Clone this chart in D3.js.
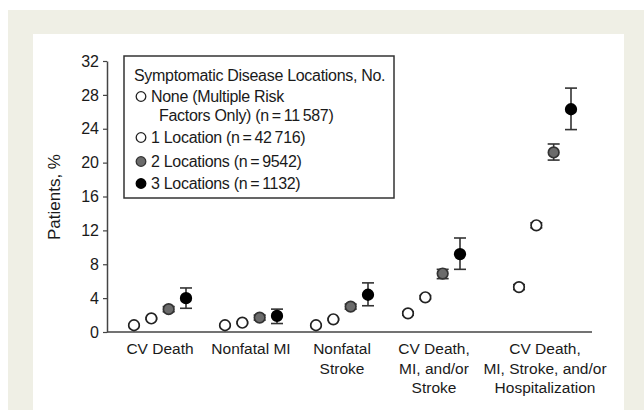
<!DOCTYPE html>
<html>
<head>
<meta charset="utf-8">
<script src="https://cdn.jsdelivr.net/npm/d3@7"></script>
<style>
  body { margin: 0; background: #fff; }
  svg text { font-family: "Liberation Sans", Arial, sans-serif; fill: #1a1a1a; }
</style>
</head>
<body>
<svg width="644" height="410"></svg>
<script>
// categories (one label line per entry)
var categories = [
  ["CV Death"],
  ["Nonfatal MI"],
  ["Nonfatal", "Stroke"],
  ["CV Death,", "MI, and/or", "Stroke"],
  ["CV Death,", "MI, Stroke, and/or", "Hospitalization"]
];

var seriesNames = ["None", "1 Location", "2 Locations", "3 Locations"];
var legendTitle = "Symptomatic Disease Locations, No.";
var legendLines = [
  ["None (Multiple Risk", "Factors Only) (n\u2009=\u200911\u2009587)"],
  ["1 Location (n\u2009=\u200942\u2009716)"],
  ["2 Locations (n\u2009=\u20099542)"],
  ["3 Locations (n\u2009=\u20091132)"]
];

// percent of patients, per series, per category
var noneVals  = [0.8, 0.8, 0.8, 2.2, 5.3];
var oneVals   = [1.6, 1.1, 1.5, 4.1, 12.6];
var twoVals   = [2.7, 1.7, 3.0, 6.9, 21.2];
var threeVals = [4.0, 1.9, 4.4, 9.2, 26.3];

// 95% CI low / high
var noneLow   = [0.7, 0.7, 0.7, 2.0, 5.0];
var noneHigh  = [0.9, 0.9, 0.9, 2.4, 5.6];
var oneLow    = [1.5, 1.0, 1.4, 3.9, 12.3];
var oneHigh   = [1.7, 1.2, 1.6, 4.3, 12.9];
var twoLow    = [2.4, 1.4, 2.7, 6.3, 20.3];
var twoHigh   = [3.0, 2.0, 3.3, 7.4, 22.2];
var threeLow  = [2.8, 1.0, 3.1, 7.4, 23.9];
var threeHigh = [5.2, 2.7, 5.8, 11.1, 28.8];

var yTicks = [0, 4, 8, 12, 16, 20, 24, 28, 32];

var seriesVals = [noneVals, oneVals, twoVals, threeVals];
var seriesLow = [noneLow, oneLow, twoLow, threeLow];
var seriesHigh = [noneHigh, oneHigh, twoHigh, threeHigh];
var fills = ["#fff", "#fff", "#6b6b6b", "#000"];
var strokes = ["#222", "#222", "#333", "#000"];

var svg = d3.select("svg");

// page background
svg.append("rect").attr("x", 8).attr("y", 10).attr("width", 636).attr("height", 400).attr("fill", "#efefe5");
svg.append("rect").attr("x", 33).attr("y", 34).attr("width", 591).attr("height", 376).attr("fill", "#fff");

var y = d3.scaleLinear().domain([0, 32]).range([332, 61]);

var catIdx = d3.range(categories.length);
var xGroup = d3.scaleOrdinal().domain(catIdx).range([160, 251, 342, 434, 545]);
var xOff = d3.scalePoint().domain(d3.range(seriesNames.length)).range([-26, 26]);

// y axis
var yAxis = svg.append("g")
  .attr("transform", "translate(107,0)")
  .call(d3.axisLeft(y).tickValues(yTicks).tickSize(4).tickPadding(4).tickSizeOuter(0));
yAxis.select(".domain").attr("stroke", "#444").attr("stroke-width", 1.5);
yAxis.selectAll(".tick line").attr("stroke", "#444").attr("stroke-width", 1.2);
yAxis.selectAll(".tick text").attr("font-size", 16).attr("font-family", "Liberation Sans, Arial, sans-serif").attr("fill", "#1a1a1a");

// x axis line
svg.append("line")
  .attr("x1", 107).attr("x2", 592)
  .attr("y1", y(0)).attr("y2", y(0))
  .attr("stroke", "#444").attr("stroke-width", 1.5);

// category labels
var catLabel = svg.selectAll(".cat")
  .data(categories)
  .enter().append("text")
  .attr("class", "cat")
  .attr("text-anchor", "middle")
  .attr("font-size", 15.5)
  .attr("y", 354);
catLabel.selectAll("tspan")
  .data(function(d, i) { return d.map(function(t) { return {t: t, i: i}; }); })
  .enter().append("tspan")
  .attr("x", function(d) { return xGroup(d.i); })
  .attr("dy", function(d, j) { return j == 0 ? 0 : 19.5; })
  .text(function(d) { return d.t; });

// y title
svg.append("text")
  .attr("transform", "translate(60,197) rotate(-90)")
  .attr("text-anchor", "middle")
  .attr("font-size", 17)
  .text("Patients, %");

// points + error bars
var pts = [];
seriesVals.forEach(function(vals, s) {
  vals.forEach(function(v, c) {
    pts.push({s: s, c: c, v: v, lo: seriesLow[s][c], hi: seriesHigh[s][c]});
  });
});

function px(d) { return xGroup(d.c) + xOff(d.s); }

var eb = svg.append("g").selectAll("g")
  .data(pts)
  .enter().append("g")
  .attr("stroke", "#333").attr("stroke-width", 1.6);
eb.append("line")
  .attr("x1", px).attr("x2", px)
  .attr("y1", function(d) { return y(d.lo); })
  .attr("y2", function(d) { return y(d.hi); });
eb.append("line")
  .attr("x1", function(d) { return px(d) - 6; }).attr("x2", function(d) { return px(d) + 6; })
  .attr("y1", function(d) { return y(d.lo); }).attr("y2", function(d) { return y(d.lo); });
eb.append("line")
  .attr("x1", function(d) { return px(d) - 6; }).attr("x2", function(d) { return px(d) + 6; })
  .attr("y1", function(d) { return y(d.hi); }).attr("y2", function(d) { return y(d.hi); });

svg.append("g").selectAll("circle")
  .data(pts)
  .enter().append("circle")
  .attr("cx", px)
  .attr("cy", function(d) { return y(d.v); })
  .attr("r", 5.3)
  .attr("fill", function(d) { return fills[d.s]; })
  .attr("stroke", function(d) { return strokes[d.s]; })
  .attr("stroke-width", 1.7);

// legend
var lg = svg.append("g");
lg.append("rect")
  .attr("x", 124).attr("y", 56).attr("width", 270).attr("height", 142)
  .attr("fill", "#fff").attr("stroke", "#333").attr("stroke-width", 1.5);
lg.append("text")
  .attr("x", 134).attr("y", 81)
  .attr("font-size", 16).attr("letter-spacing", -0.3)
  .text(legendTitle);

var rowY = [102, 143, 167, 189];
var item = lg.selectAll(".item")
  .data(legendLines)
  .enter().append("g")
  .attr("class", "item");
item.append("circle")
  .attr("cx", 141)
  .attr("cy", function(d, i) { return rowY[i] - 5.5; })
  .attr("r", 4.8)
  .attr("fill", function(d, i) { return fills[i]; })
  .attr("stroke", function(d, i) { return strokes[i]; })
  .attr("stroke-width", 1.3);
item.append("text")
  .attr("font-size", 16).attr("letter-spacing", -0.3)
  .attr("y", function(d, i) { return rowY[i]; })
  .selectAll("tspan")
  .data(function(d) { return d; })
  .enter().append("tspan")
  .attr("x", function(d, j) { return j == 0 ? 151 : 159; })
  .attr("dy", function(d, j) { return j == 0 ? 0 : 19; })
  .text(function(d) { return d; });
</script>
</body>
</html>
